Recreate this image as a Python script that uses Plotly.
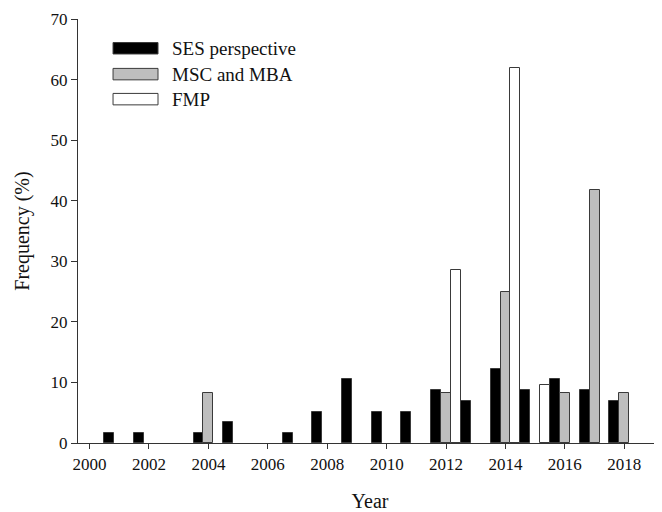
import plotly.graph_objects as go

# ---- data ----
series_names = ["SES perspective", "MSC and MBA", "FMP"]
series_colors = ["#000000", "#bebebe", "#ffffff"]

ses_years = [2001, 2002, 2004, 2005, 2007, 2008, 2009, 2010, 2011, 2012, 2013, 2014, 2015, 2016, 2017, 2018]
ses_values = [1.7, 1.7, 1.7, 3.5, 1.7, 5.2, 10.5, 5.2, 5.2, 8.8, 7.0, 12.3, 8.8, 10.5, 8.8, 7.0]

msc_years = [2004, 2012, 2014, 2016, 2017, 2018]
msc_values = [8.3, 8.3, 25.0, 8.3, 41.7, 8.3]

fmp_years = [2012, 2014, 2015]
fmp_values = [28.6, 61.9, 9.5]

x_ticks = list(range(2000, 2019, 2))
y_ticks = list(range(0, 71, 10))

FONT = "Liberation Serif, Times New Roman, serif"

fig = go.Figure()
for name, color, xs, ys in zip(series_names, series_colors,
                               [ses_years, msc_years, fmp_years],
                               [ses_values, msc_values, fmp_values]):
    fig.add_trace(go.Bar(
        x=xs, y=ys, name=name,
        marker=dict(color=color, line=dict(color="#3a3a3a", width=1)),
        showlegend=False,
    ))

# ---- custom legend (long swatches like the original) ----
row_y = [0.931, 0.870, 0.811]
half_h = 0.0135
for name, color, yc in zip(series_names, series_colors, row_y):
    fig.add_shape(type="rect", xref="paper", yref="paper",
                  x0=0.060, x1=0.137, y0=yc - half_h, y1=yc + half_h,
                  fillcolor=color, line=dict(color="#3a3a3a", width=1))
    fig.add_annotation(xref="paper", yref="paper", x=0.158, y=yc,
                       text=name, showarrow=False, xanchor="left", yanchor="middle",
                       font=dict(family=FONT, size=19, color="#111111"))

fig.update_layout(
    width=654, height=504,
    margin=dict(l=70, r=0, t=11, b=69),
    paper_bgcolor="white", plot_bgcolor="white",
    barmode="group", bargap=0, bargroupgap=0,
    font=dict(family=FONT, size=17, color="#111111"),
    xaxis=dict(
        range=[1999.61, 2019.27],
        tickmode="array", tickvals=x_ticks, ticktext=[str(t) for t in x_ticks],
        ticks="outside", ticklen=5, tickwidth=1.3, tickcolor="#333333",
        showline=True, linecolor="#333333", linewidth=1.3,
        showgrid=False, zeroline=False,
        title=dict(text="Year", font=dict(family=FONT, size=20), standoff=24),
        tickfont=dict(family=FONT, size=17),
    ),
    yaxis=dict(
        range=[0, 70],
        tickmode="array", tickvals=y_ticks, ticktext=[str(t) for t in y_ticks],
        ticks="outside", ticklen=6, tickwidth=1.3, tickcolor="#333333",
        showline=True, linecolor="#333333", linewidth=1.3,
        showgrid=False, zeroline=False,
        title=dict(text="Frequency (%)", font=dict(family=FONT, size=20), standoff=15),
        tickfont=dict(family=FONT, size=17),
    ),
)

fig.write_html("out.html")
